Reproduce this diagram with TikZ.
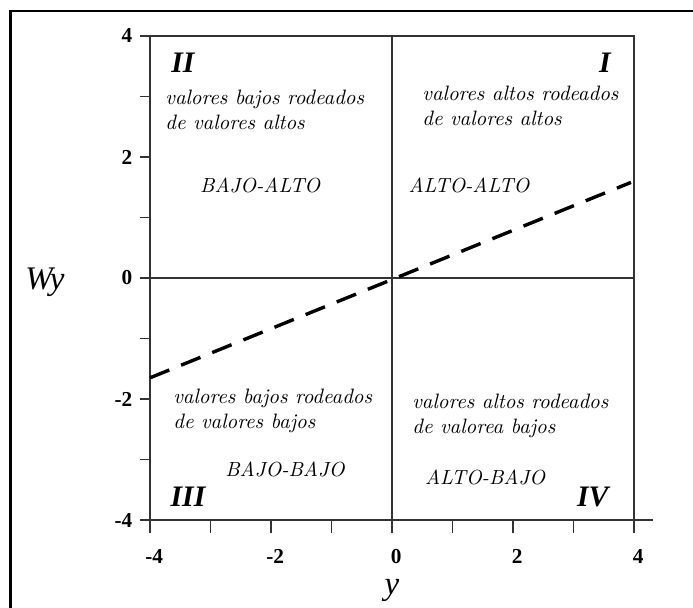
\documentclass[tikz,border=0pt]{standalone}
\usepackage{fontspec}
\newfontfamily\timesfont{Liberation Serif}
\usepackage{tikz}
\usetikzlibrary{positioning}

\begin{document}
\begin{tikzpicture}[
    axis/.style={draw=black!80, line width=0.6pt},
    ticklab/.style={font=\timesfont\bfseries\fontsize{10}{12}\selectfont, inner sep=1pt},
    quad/.style={font=\timesfont\bfseries\itshape\fontsize{14}{16}\selectfont, inner sep=0pt},
    desc/.style={font=\itshape\fontsize{9.8}{11.75}\selectfont, align=left,
      anchor=west, inner sep=0pt},
    tag/.style={font=\itshape\fontsize{9.6}{11.75}\selectfont, inner sep=0pt},
    varlab/.style={font=\timesfont\itshape\fontsize{15.5}{18}\selectfont, inner sep=0pt},
  ]
  \useasboundingbox (-6.479,-5.438) rectangle (4.975,4.595);

  % Frame
  \draw[line width=1pt] (-6.306,-6) -- (-6.306,4.413) -- (6,4.413);

  % Box and axes
  \draw[axis] (-4,-4) rectangle (4,4);
  \draw[axis] (-4.165,0) -- (4,0);
  \draw[axis] (0,4) -- (0,-4.215);
  \draw[axis] (-4,-4) -- (4.31,-4);
  \foreach \t in {-4,...,4} {
    \draw[axis] (-4.165,\t) -- (-4,\t);
    \draw[axis] (\t,-4) -- (\t,-4.215);
  }
  \foreach \t in {-4,-2,0,2,4} {
    \node[ticklab, anchor=east] (ly\t) at (-4.25,\t) {\t};
    \node[ticklab] (lx\t) at (\t+0.07,-4.61) {\t};
  }

  % Axis names
  \node[varlab] (wy) at (-5.735,-0.07) {Wy};
  \node[varlab] (yy) at (0,-5.157) {y};

  % Regression line
  \coordinate (lo) at (-4,-1.65);
  \coordinate (hi) at (3.95,1.58);
  \draw[line width=1.6pt, dash pattern=on 9.8pt off 6pt] (lo) -- (hi);

  % Quadrant numbers
  \node[quad] (q2) at (-3.455,3.554) {II};
  \node[quad] (q1) at (3.52,3.554) {I};
  \node[quad] (q3) at (-3.372,-3.62) {III};
  \node[quad] (q4) at (3.32,-3.62) {IV};

  % Quadrant texts
  \node[desc] (d2) at (-3.752,2.785) {valores bajos rodeados\\de valores altos};
  \node[desc] (d1) at (0.496,2.851) {valores altos rodeados\\de valores altos};
  \node[desc] (d3) at (-3.62,-2.19) {valores bajos rodeados\\de valores bajos};
  \node[desc] (d4) at (0.33,-2.273) {valores altos rodeados\\de valorea bajos};

  \node[tag] (t2) at (-2.18,1.537) {BAJO-ALTO};
  \node[tag] (t1) at (1.27,1.537) {ALTO-ALTO};
  \node[tag] (t3) at (-1.77,-3.17) {BAJO-BAJO};
  \node[tag] (t4) at (1.537,-3.29) {ALTO-BAJO};
\end{tikzpicture}
\end{document}
